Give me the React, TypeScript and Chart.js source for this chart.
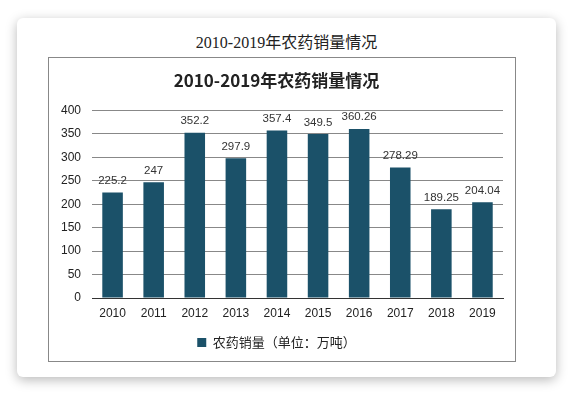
import React, { useEffect, useRef } from "react";
import { Chart, registerables } from "chart.js";

Chart.register(...registerables);

const years = ["2010", "2011", "2012", "2013", "2014", "2015", "2016", "2017", "2018", "2019"];
const sales = [225.2, 247, 352.2, 297.9, 357.4, 349.5, 360.26, 278.29, 189.25, 204.04];
const valueLabels = ["225.2", "247", "352.2", "297.9", "357.4", "349.5", "360.26", "278.29", "189.25", "204.04"];
const chartTitle = "2010-2019年农药销量情况";
const seriesName = "农药销量（单位：万吨）";

const BAR = "#1b5169";

const labelPlugin = {
  id: "valueLabels",
  afterDatasetsDraw(chart: any) {
    const ctx = chart.ctx;
    const meta = chart.getDatasetMeta(0);
    ctx.save();
    ctx.font = '11.5px "Liberation Sans", Arial, sans-serif';
    ctx.fillStyle = "#333";
    ctx.textAlign = "center";
    ctx.textBaseline = "bottom";
    meta.data.forEach((bar: any, i: number) => {
      ctx.fillText(valueLabels[i], bar.x, bar.y - 6);
    });
    ctx.restore();
  },
};

export default function App() {
  const ref = useRef<HTMLCanvasElement>(null);
  useEffect(() => {
    if (!ref.current) return;
    const chart = new Chart(ref.current, {
      type: "bar",
      data: {
        labels: years,
        datasets: [
          {
            label: seriesName,
            data: sales,
            backgroundColor: BAR,
            barPercentage: 0.5,
            categoryPercentage: 1,
          },
        ],
      },
      options: {
        animation: false,
        responsive: false,
        maintainAspectRatio: false,
        layout: { padding: { left: 1, right: 12, top: 6, bottom: 2 } },
        plugins: {
          title: {
            display: true,
            text: chartTitle,
            color: "#222",
            font: { size: 17, weight: "bold", family: '"Noto Sans CJK SC", "Liberation Sans", sans-serif' },
            padding: { top: 6, bottom: 20 },
          },
          legend: {
            position: "bottom",
            labels: {
              boxWidth: 9,
              boxHeight: 9,
              color: "#222",
              padding: 7.5,
              font: { size: 13, family: '"Noto Sans CJK SC", "Liberation Sans", sans-serif' },
            },
          },
          tooltip: { enabled: false },
        },
        scales: {
          x: {
            grid: { display: false, drawTicks: false },
            border: { display: true, color: "#333" },
            ticks: { color: "#222", padding: 8, font: { size: 12, family: '"Liberation Sans", Arial, sans-serif' } },
          },
          y: {
            min: 0,
            max: 400,
            grid: { color: "#888", drawTicks: false },
            border: { display: false },
            ticks: {
              stepSize: 50,
              color: "#222",
              padding: 11,
              font: { size: 12, family: '"Liberation Sans", Arial, sans-serif' },
            },
          },
        },
      },
      plugins: [labelPlugin],
    });
    return () => chart.destroy();
  }, []);

  return (
    <div style={{ position: "absolute", left: 0, top: 0, width: 574, height: 395, background: "#fff", overflow: "hidden" }}>
      <div
        style={{
          position: "absolute",
          left: 17,
          top: 18,
          width: 539,
          height: 359,
          background: "#fff",
          borderRadius: 6,
          boxShadow: "0 3px 12px rgba(0,0,0,0.28)",
        }}
      >
        <div
          style={{
            position: "absolute",
            left: 0,
            top: 15,
            width: 539,
            textAlign: "center",
            fontFamily: '"Liberation Serif", "Noto Sans CJK SC", serif',
            fontSize: 16,
            color: "#222",
            lineHeight: "20px",
          }}
        >
          {chartTitle}
        </div>
        <div
          style={{
            position: "absolute",
            left: 31,
            top: 39,
            width: 466,
            height: 303,
            border: "1px solid #888",
          }}
        >
          <canvas ref={ref} width={466} height={303} style={{ display: "block" }} />
        </div>
      </div>
    </div>
  );
}
